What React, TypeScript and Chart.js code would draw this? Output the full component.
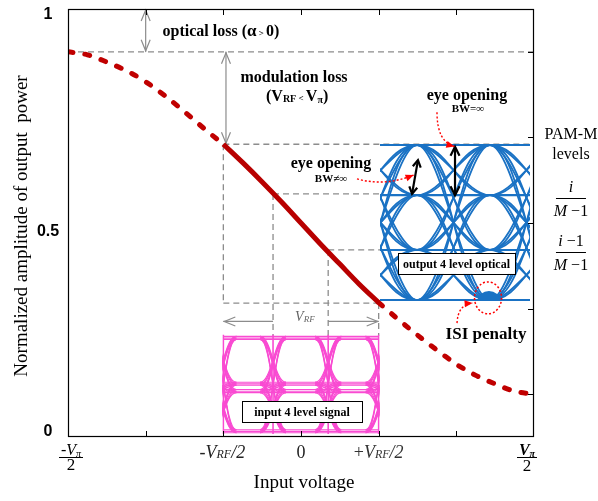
import { useEffect, useRef } from 'react';
import { Chart, registerables } from 'chart.js';

Chart.register(...registerables);

// ---------------- data ----------------
const inputVoltage = [-3, -2.75, -2.5, -2.25, -2, -1.75, -1.5, -1.25, -1, -0.75, -0.5, -0.25, 0, 0.25, 0.5, 0.75, 1, 1.25, 1.5, 1.75, 2, 2.25, 2.5, 2.75, 3];
const outputPower = [0.9, 0.893, 0.876, 0.856, 0.83, 0.797, 0.76, 0.721, 0.684, 0.641, 0.596, 0.549, 0.5, 0.451, 0.404, 0.357, 0.314, 0.275, 0.238, 0.203, 0.17, 0.144, 0.124, 0.107, 0.1];
const rfSwing = [-1, 1];
const biasPower = 0.9;
const xTickMarks = [-2, -1, 0, 1, 2];
const rightTickMarks = [0.1, 0.3, 0.5, 0.7, 0.9];
const yTickValues = [1, 0.5, 0];
const yTickLabels = ['1', '0.5', '0'];
const driveLevels = [-1, -0.36, 0.35, 1];
const opticalLevels = [0.684, 0.568, 0.437, 0.313];
const inputEyeLevels = [0.232, 0.125, 0.108, 0.014];
const outputEyeLevels = [0.682, 0.565, 0.437, 0.32];
const outputEyeSamples = [1.494, 2.433];
const outputEyeSpan = [1.017, 2.948];

const SERIF = '"Liberation Serif", "Times New Roman", serif';
const SANS = '"Liberation Sans", Arial, sans-serif';

type Run = { t: string; f: string; dy?: number };

function drawRuns(ctx: CanvasRenderingContext2D, list: Run[], cx: number, baseline: number, color = '#000') {
  ctx.save();
  ctx.fillStyle = color;
  ctx.textAlign = 'left';
  ctx.textBaseline = 'alphabetic';
  let w = 0;
  for (const r of list) { ctx.font = r.f; w += ctx.measureText(r.t).width; }
  let x = cx - w / 2;
  for (const r of list) {
    ctx.font = r.f;
    ctx.fillText(r.t, x, baseline + (r.dy || 0));
    x += ctx.measureText(r.t).width;
  }
  ctx.restore();
  return w;
}

function line(ctx: CanvasRenderingContext2D, x1: number, y1: number, x2: number, y2: number) {
  ctx.beginPath(); ctx.moveTo(x1, y1); ctx.lineTo(x2, y2); ctx.stroke();
}

function openHead(ctx: CanvasRenderingContext2D, fx: number, fy: number, x: number, y: number, len: number, half: number) {
  const a = Math.atan2(y - fy, x - fx);
  const c = Math.cos(a), s = Math.sin(a);
  ctx.beginPath();
  ctx.moveTo(x - len * c + half * s, y - len * s - half * c);
  ctx.lineTo(x, y);
  ctx.lineTo(x - len * c - half * s, y - len * s + half * c);
  ctx.stroke();
}

function filledHead(ctx: CanvasRenderingContext2D, fx: number, fy: number, x: number, y: number, len: number, half: number) {
  const a = Math.atan2(y - fy, x - fx);
  const c = Math.cos(a), s = Math.sin(a);
  ctx.beginPath();
  ctx.moveTo(x, y);
  ctx.lineTo(x - len * c + half * s, y - len * s - half * c);
  ctx.lineTo(x - len * c - half * s, y - len * s + half * c);
  ctx.closePath();
  ctx.fill();
}

function redArrow(ctx: CanvasRenderingContext2D, x1: number, y1: number, cx: number, cy: number, x2: number, y2: number) {
  ctx.save();
  ctx.strokeStyle = '#ff0000';
  ctx.fillStyle = '#ff0000';
  ctx.lineWidth = 1.4;
  ctx.setLineDash([2, 2]);
  ctx.beginPath(); ctx.moveTo(x1, y1); ctx.quadraticCurveTo(cx, cy, x2, y2); ctx.stroke();
  ctx.setLineDash([]);
  filledHead(ctx, cx, cy, x2, y2, 8, 3.5);
  ctx.restore();
}

function labelBox(ctx: CanvasRenderingContext2D, x1: number, y1: number, x2: number, y2: number, text: string) {
  ctx.save();
  ctx.fillStyle = '#fff';
  ctx.fillRect(x1, y1, x2 - x1, y2 - y1);
  ctx.strokeStyle = '#000';
  ctx.lineWidth = 1;
  ctx.strokeRect(Math.round(x1) + 0.5, Math.round(y1) + 0.5, Math.round(x2 - x1), Math.round(y2 - y1));
  ctx.fillStyle = '#000';
  ctx.font = `bold 12px ${SERIF}`;
  ctx.textAlign = 'center';
  ctx.textBaseline = 'middle';
  ctx.fillText(text, (x1 + x2) / 2, (y1 + y2) / 2 + 1);
  ctx.restore();
}

const annotate = {
  id: 'annotate',
  beforeDatasetsDraw(chart: any) {
    const ctx: CanvasRenderingContext2D = chart.ctx;
    const X = (v: number) => chart.scales.x.getPixelForValue(v);
    const Y = (v: number) => chart.scales.y.getPixelForValue(v);
    ctx.save();
    ctx.strokeStyle = '#8c8c8c';
    ctx.lineWidth = 1.3;
    ctx.setLineDash([6, 4]);
    line(ctx, X(-3), Y(biasPower), X(3), Y(biasPower));
    line(ctx, X(driveLevels[0]), Y(opticalLevels[0]), X(3), Y(opticalLevels[0]));
    line(ctx, X(driveLevels[1]), Y(opticalLevels[1]), X(outputEyeSpan[0]), Y(opticalLevels[1]));
    line(ctx, X(driveLevels[2]), Y(opticalLevels[2]), X(outputEyeSpan[0]), Y(opticalLevels[2]));
    line(ctx, X(driveLevels[0]), Y(opticalLevels[3]), X(driveLevels[3]), Y(opticalLevels[3]));
    line(ctx, X(driveLevels[0]), Y(opticalLevels[0]), X(driveLevels[0]), Y(opticalLevels[3]));
    for (let i = 1; i < 4; i++) {
      line(ctx, X(driveLevels[i]), Y(opticalLevels[i]), X(driveLevels[i]), Y(inputEyeLevels[0]) - 2);
    }
    ctx.setLineDash([]);
    ctx.lineWidth = 1.2;
    ctx.strokeStyle = '#8c8c8c';
    const ox = X(-2);
    line(ctx, ox, Y(1), ox, Y(biasPower));
    openHead(ctx, ox, Y(0.95), ox, Y(1) + 1, 11, 4.5);
    openHead(ctx, ox, Y(0.95), ox, Y(biasPower) - 1, 11, 4.5);
    const mx = X(-0.966);
    line(ctx, mx, Y(biasPower), mx, Y(opticalLevels[0]));
    openHead(ctx, mx, Y(0.8), mx, Y(biasPower) + 1, 11, 4.5);
    openHead(ctx, mx, Y(0.8), mx, Y(opticalLevels[0]) - 1, 11, 4.5);
    const ay = Y(0.27);
    line(ctx, X(driveLevels[1]), ay, X(rfSwing[0]), ay);
    openHead(ctx, X(driveLevels[1]), ay, X(rfSwing[0]) + 1, ay, 11, 4.5);
    line(ctx, X(driveLevels[2]), ay, X(rfSwing[1]), ay);
    openHead(ctx, X(driveLevels[2]), ay, X(rfSwing[1]) - 1, ay, 11, 4.5);
    ctx.restore();
  },
  afterDatasetsDraw(chart: any) {
    const ctx: CanvasRenderingContext2D = chart.ctx;
    const X = (v: number) => chart.scales.x.getPixelForValue(v);
    const Y = (v: number) => chart.scales.y.getPixelForValue(v);
    const area = chart.chartArea;

    // ---- input (pink) eye ----
    {
      const x0 = X(driveLevels[0]);
      const x1 = X(driveLevels[3]);
      const top = Y(inputEyeLevels[0]) - 4;
      const bot = Y(inputEyeLevels[3]) + 3;
      ctx.save();
      ctx.beginPath(); ctx.rect(x0 - 1, top, x1 - x0 + 2, bot - top); ctx.clip();
      ctx.strokeStyle = '#f94bd2';
      ctx.lineWidth = 1.1;
      const w = 13;
      for (const off of [-1.3, 0.4, 1.8]) {
        for (const c of driveLevels) {
          const cx = X(c);
          for (const a of inputEyeLevels) {
            for (const b of inputEyeLevels) {
              if (a === b) continue;
              ctx.beginPath();
              ctx.moveTo(cx - w, Y(a) + off);
              ctx.bezierCurveTo(cx - 1, Y(a) + off, cx + 1, Y(b) + off, cx + w, Y(b) + off);
              ctx.stroke();
            }
          }
        }
        for (const l of inputEyeLevels) line(ctx, x0, Y(l) + off, x1, Y(l) + off);
      }
      ctx.lineWidth = 1.6;
      for (const c of driveLevels) line(ctx, X(c), Y(inputEyeLevels[0]) - 3, X(c), Y(inputEyeLevels[3]) + 3);
      ctx.restore();
      labelBox(ctx, X(-0.76), Y(0.084), X(0.785), Y(0.035), 'input 4 level signal');
    }

    // ---- output (blue) eye ----
    {
      const [s0, s1] = outputEyeSamples;
      const ui = s1 - s0;
      const xa = X(outputEyeSpan[0]);
      const xb = X(outputEyeSpan[1]);
      const top = Y(outputEyeLevels[0]) - 2;
      const bot = Y(outputEyeLevels[3]) + 2;
      ctx.save();
      ctx.beginPath(); ctx.rect(xa, top, xb - xa, bot - top); ctx.clip();
      ctx.strokeStyle = '#1a72c4';
      ctx.lineWidth = 1.8;
      for (const s of [s0 - ui, s0, s1]) {
        const p0 = X(s), p1 = X(s + ui), d = p1 - p0;
        for (const a of outputEyeLevels) {
          for (const b of outputEyeLevels) {
            for (const k of [0.45, 0.32]) {
              ctx.beginPath();
              ctx.moveTo(p0, Y(a));
              ctx.bezierCurveTo(p0 + d * k, Y(a), p1 - d * k, Y(b), p1, Y(b));
              ctx.stroke();
            }
          }
        }
      }
      ctx.lineWidth = 2;
      for (const l of outputEyeLevels) line(ctx, xa, Y(l), xb, Y(l));
      ctx.fillStyle = '#1a72c4';
      ctx.beginPath();
      ctx.ellipse(X(2.42), Y(outputEyeLevels[3]), 11, 9, 0, Math.PI, 2 * Math.PI);
      ctx.fill();
      ctx.restore();
      labelBox(ctx, X(1.249), Y(0.43), X(2.755), Y(0.381), 'output 4 level optical');
    }

    // ---- black eye-opening arrows ----
    ctx.save();
    ctx.strokeStyle = '#000';
    ctx.lineWidth = 2.2;
    {
      const bx = X(1.983);
      const y1 = Y(0.678), y2 = Y(0.565);
      line(ctx, bx, y1, bx, y2);
      openHead(ctx, bx, y2, bx, y1, 9, 4.5);
      openHead(ctx, bx, y1, bx, y2, 9, 4.5);
      const ax1 = X(1.43), ay1 = Y(0.568), ax2 = X(1.506), ay2 = Y(0.647);
      line(ctx, ax1, ay1, ax2, ay2);
      openHead(ctx, ax2, ay2, ax1, ay1, 7, 4);
      openHead(ctx, ax1, ay1, ax2, ay2, 7, 4);
    }
    ctx.restore();

    // ---- red dotted ISI circle & arrows ----
    ctx.save();
    ctx.strokeStyle = '#ff0000';
    ctx.lineWidth = 1.5;
    ctx.setLineDash([2, 2]);
    ctx.beginPath();
    ctx.ellipse(X(2.408), Y(0.325), 13.5, 16, 0, 0, 2 * Math.PI);
    ctx.stroke();
    ctx.restore();
    redArrow(ctx, X(1.751), Y(0.759), X(1.751), Y(0.69), X(1.975), Y(0.679));
    redArrow(ctx, X(0.721), Y(0.603), X(1.08), Y(0.585), X(1.45), Y(0.612));
    redArrow(ctx, X(2.009), Y(0.266), X(2.02), Y(0.31), X(2.21), Y(0.313));

    // ---- frame & ticks ----
    ctx.save();
    ctx.strokeStyle = '#000';
    ctx.lineWidth = 1.2;
    ctx.strokeRect(area.left + 0.5, area.top + 0.5, area.right - area.left - 1, area.bottom - area.top - 1);
    ctx.lineWidth = 1;
    for (const t of xTickMarks) {
      const x = Math.round(X(t)) + 0.5;
      line(ctx, x, area.top, x, area.top + 6);
      line(ctx, x, area.bottom, x, area.bottom - 6);
    }
    for (const t of rightTickMarks) {
      const y = Math.round(Y(t)) + 0.5;
      line(ctx, area.right, y, area.right - 6, y);
    }
    ctx.restore();

    // ---- texts ----
    const B16 = `bold 16px ${SERIF}`;
    drawRuns(ctx, [
      { t: 'optical loss (', f: B16 },
      { t: 'α', f: `bold 17px ${SERIF}` },
      { t: ' > ', f: `bold 9px ${SERIF}` },
      { t: '0)', f: B16 },
    ], X(-1.03), 36);
    drawRuns(ctx, [{ t: 'modulation loss', f: B16 }], X(-0.09), 82);
    drawRuns(ctx, [
      { t: '(V', f: B16 },
      { t: 'RF', f: `bold 10px ${SERIF}`, dy: 1 },
      { t: ' < ', f: `bold 9px ${SERIF}` },
      { t: 'V', f: B16 },
      { t: 'π', f: `bold 10px ${SERIF}`, dy: 2 },
      { t: ')', f: B16 },
    ], X(-0.05), 101);
    drawRuns(ctx, [{ t: 'eye opening', f: B16 }], X(2.137), 100);
    drawRuns(ctx, [{ t: 'BW=∞', f: `bold 11px ${SERIF}` }], X(2.15), 112);
    drawRuns(ctx, [{ t: 'eye opening', f: B16 }], X(0.386), 168);
    drawRuns(ctx, [{ t: 'BW≠∞', f: `bold 11px ${SERIF}` }], X(0.386), 182);
    drawRuns(ctx, [{ t: 'ISI penalty', f: `bold 17px ${SERIF}` }], X(2.382), 339);
    drawRuns(ctx, [
      { t: 'V', f: `italic 14px ${SERIF}` },
      { t: 'RF', f: `italic 9px ${SERIF}`, dy: 1 },
    ], X(0.05), 321, '#666');

    const R16 = `16px ${SERIF}`;
    const I16 = `italic 16px ${SERIF}`;
    const fx = X(3.476);
    drawRuns(ctx, [{ t: 'PAM-M', f: R16 }], fx, 139);
    drawRuns(ctx, [{ t: 'levels', f: R16 }], fx, 159);
    ctx.save();
    ctx.strokeStyle = '#000';
    ctx.lineWidth = 1;
    line(ctx, fx - 15, 198.5, fx + 15, 198.5);
    line(ctx, fx - 15, 252.5, fx + 15, 252.5);
    ctx.restore();
    drawRuns(ctx, [{ t: 'i', f: I16 }], fx, 192);
    drawRuns(ctx, [{ t: 'M', f: I16 }, { t: ' −1', f: R16 }], fx, 216);
    drawRuns(ctx, [{ t: 'i', f: I16 }, { t: ' −1', f: R16 }], fx, 246);
    drawRuns(ctx, [{ t: 'M', f: I16 }, { t: ' −1', f: R16 }], fx, 270);

    ctx.save();
    ctx.fillStyle = '#000';
    ctx.font = `bold 16px ${SANS}`;
    ctx.textAlign = 'center';
    ctx.textBaseline = 'alphabetic';
    const yOff = [10, 13, -1];
    yTickValues.forEach((v, i) => ctx.fillText(yTickLabels[i], 48, Y(v) + yOff[i]));
    ctx.restore();

    const xb = area.bottom + 21;
    const I18 = `italic 18px ${SERIF}`;
    const I12 = `italic 12px ${SERIF}`;
    drawRuns(ctx, [{ t: '-', f: `18px ${SERIF}` }, { t: 'V', f: I18 }, { t: 'RF', f: I12 }, { t: '/2', f: I18 }], X(-1) - 1, xb, '#222');
    drawRuns(ctx, [{ t: '0', f: `18px ${SERIF}` }], X(0), xb, '#222');
    drawRuns(ctx, [{ t: '+', f: `18px ${SERIF}` }, { t: 'V', f: I18 }, { t: 'RF', f: I12 }, { t: '/2', f: I18 }], X(1), xb, '#333');
    const lx = X(-3) + 3;
    drawRuns(ctx, [{ t: '-', f: `16px ${SERIF}` }, { t: 'V', f: `italic 16px ${SERIF}` }, { t: 'π', f: `italic 10px ${SERIF}`, dy: 2 }], lx, area.bottom + 18);
    drawRuns(ctx, [{ t: '2', f: `17px ${SERIF}` }], lx, area.bottom + 33);
    const rx = X(3) - 7;
    drawRuns(ctx, [{ t: 'V', f: `bold italic 16px ${SERIF}` }, { t: 'π', f: `bold italic 10px ${SERIF}`, dy: 2 }], rx, area.bottom + 18);
    drawRuns(ctx, [{ t: '2', f: `17px ${SERIF}` }], rx, area.bottom + 34);
    ctx.save();
    ctx.strokeStyle = '#000';
    ctx.lineWidth = 1;
    line(ctx, lx - 12, area.bottom + 20.5, lx + 12, area.bottom + 20.5);
    line(ctx, rx - 10, area.bottom + 20.5, rx + 10, area.bottom + 20.5);
    ctx.restore();

    ctx.save();
    ctx.fillStyle = '#000';
    ctx.font = `19px ${SERIF}`;
    ctx.textAlign = 'center';
    ctx.textBaseline = 'middle';
    ctx.fillText('Input voltage', 304, 483);
    ctx.translate(22, 226);
    ctx.rotate(-Math.PI / 2);
    ctx.fillText('Normalized amplitude of output  power', 0, 0);
    ctx.restore();
  },
};

export default function App() {
  const ref = useRef<HTMLCanvasElement | null>(null);
  useEffect(() => {
    if (!ref.current) return;
    const pts = inputVoltage.map((x, i) => ({ x, y: outputPower[i] }));
    const leftPart = pts.filter((p) => p.x <= rfSwing[0]);
    const midPart = pts.filter((p) => p.x >= rfSwing[0] && p.x <= rfSwing[1]);
    const rightPart = pts.filter((p) => p.x >= rfSwing[1]);
    const dashed = {
      borderColor: '#c00000',
      borderWidth: 5,
      borderDash: [5, 12],
      borderCapStyle: 'round' as const,
      pointRadius: 0,
      cubicInterpolationMode: 'monotone' as const,
      fill: false,
      order: 1,
    };
    const chart = new Chart(ref.current, {
      type: 'line',
      data: {
        datasets: [
          { data: midPart, borderColor: '#b80000', borderWidth: 5, pointRadius: 0, cubicInterpolationMode: 'monotone', fill: false, order: 0 },
          { data: leftPart, ...dashed },
          { data: rightPart, ...dashed },
        ],
      },
      options: {
        animation: false,
        responsive: true,
        maintainAspectRatio: false,
        devicePixelRatio: 1,
        layout: { padding: { left: 68, top: 9, right: 64, bottom: 64 } },
        scales: {
          x: { type: 'linear', min: -3, max: 3, display: false },
          y: { type: 'linear', min: 0, max: 1, display: false },
        },
        plugins: { legend: { display: false }, tooltip: { enabled: false } },
        events: [],
      },
      plugins: [annotate],
    });
    return () => chart.destroy();
  }, []);
  return (
    <div style={{ position: 'absolute', left: 0, top: 0, width: 598, height: 501 }}>
      <canvas ref={ref} />
    </div>
  );
}
